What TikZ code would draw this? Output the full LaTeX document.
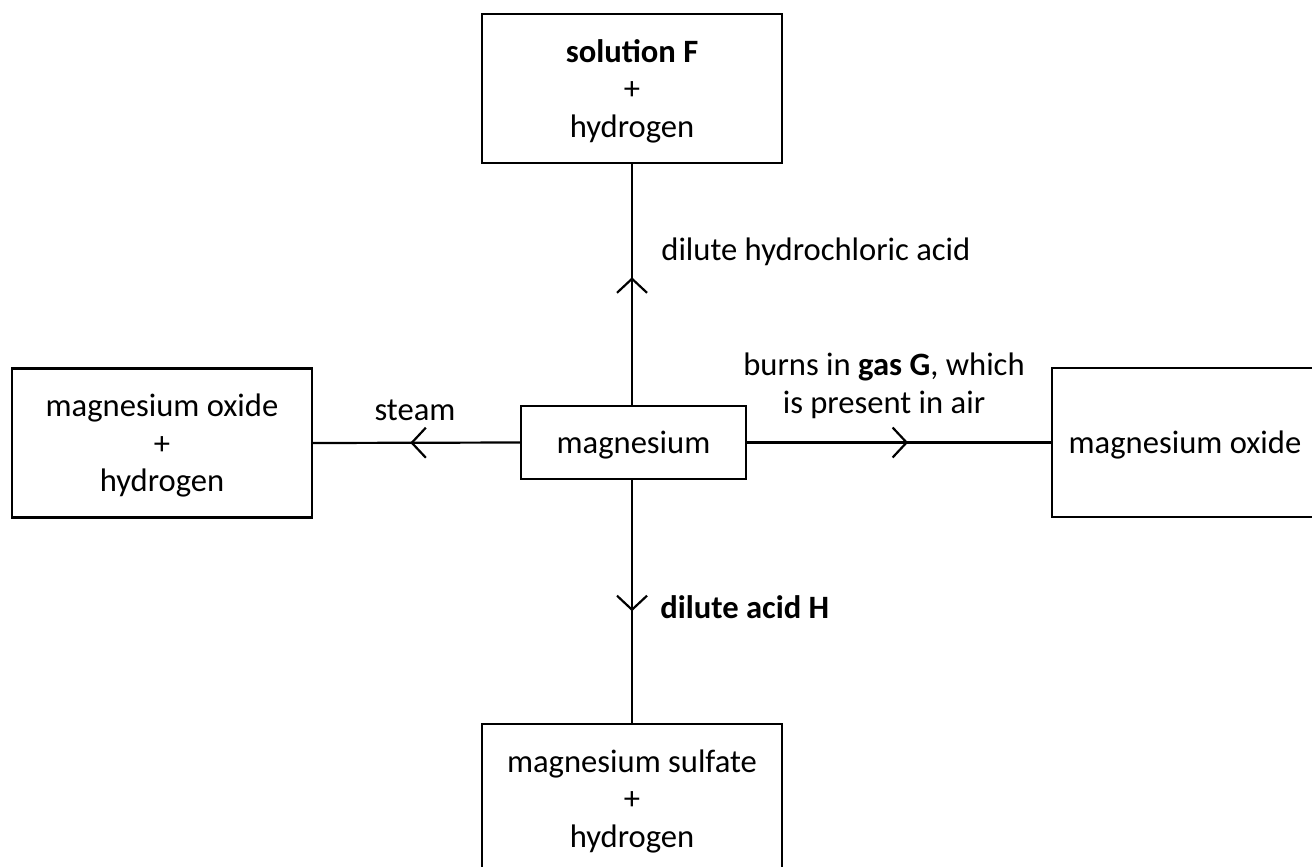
\documentclass[tikz,border=0pt]{standalone}
\usepackage{fontspec}
\setmainfont{Carlito}
\usetikzlibrary{arrows.meta,decorations.markings}

\tikzset{
  txt/.style={font=\fontsize{16.3}{18.8}\selectfont},
  box/.style={txt, draw, line width=1.1pt, minimum width=150pt, minimum height=74.5pt,
    inner sep=0pt, text depth=0pt, align=center},
  lbl/.style={txt, inner sep=0pt, align=center},
  flow/.style={line width=1.1pt, postaction={decorate},
    decoration={markings, mark=at position #1 with
      {\arrow{Straight Barb[length=7pt,width=15pt,line width=1.1pt]}}}},
  flow/.default=0.53
}

\begin{document}
\begin{tikzpicture}[x=0.5pt,y=-0.5pt]
        \useasboundingbox (0,0) rectangle (1312,867);

          \node[box, minimum width=112.5pt, minimum height=36.5pt] (mg) at (633.5,442.5) {magnesium};

          \node[box] (solF) at (632,88.5) {\textbf{solution F}\\+\\hydrogen};
          \node[box] (mgoH) at (162,443) {magnesium oxide\\+\\hydrogen};
          \node[box, minimum width=133pt] (mgo) at (1185,442.5) {magnesium oxide};
          \node[box] (mgso) at (632,798.5) {magnesium sulfate\\+\\hydrogen};

          \draw[flow] (mg.north -| solF.south) -- (solF.south);
          \draw[flow] (mg.west) -- (mgoH.east);
          \draw[flow] (mg.east) -- (mgo.west);
          \draw[flow=0.54] (mg.south -| mgso.north) -- (mgso.north);

          \node[lbl, anchor=west] (hcl) at (661,252) {dilute hydrochloric acid};
          \node[lbl] (steam) at (415,410) {steam};
          \node[lbl] (gasG) at (884,386) {burns in \textbf{gas G}, which\\is present in air};
          \node[lbl, anchor=west] (acidH) at (660,607) {\textbf{dilute acid H}};
        \end{tikzpicture}
\end{document}
